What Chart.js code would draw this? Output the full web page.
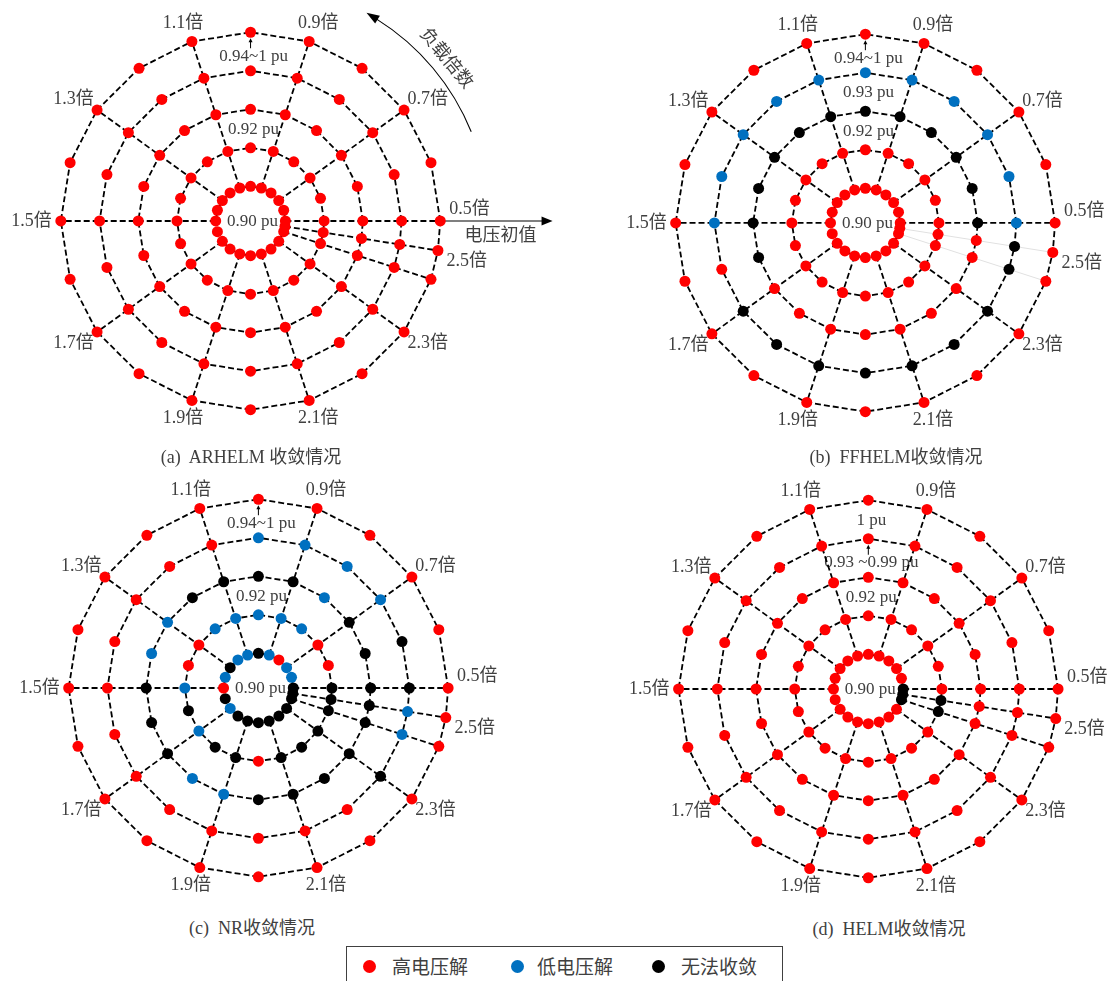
<!DOCTYPE html>
<html>
<head>
<meta charset="utf-8">
<title>收敛情况</title>
<script src="https://cdn.jsdelivr.net/npm/chart.js@4.4.1/dist/chart.umd.min.js"></script>
<style>
  body { margin: 0; background: #fff; }
  #fig {
    position: relative; width: 1113px; height: 981px; overflow: hidden;
    font-family: "Liberation Serif", "Noto Sans CJK SC", serif; color: #404040;
  }
  #fig canvas { position: absolute; }
  .cap { position: absolute; font-size: 18px; white-space: pre; transform: translate(-50%, -50%); }
  #legend {
    position: absolute; left: 346px; top: 946px; width: 437px; height: 44px;
    border: 1px solid #404040; box-sizing: border-box;
  }
  .dot { position: absolute; width: 13px; height: 13px; border-radius: 50%; top: 13px; }
  .lbl { position: absolute; top: 7px; font-size: 19px; line-height: 24px; font-family: "Noto Sans CJK SC", sans-serif; }
</style>
</head>
<body>
<div id="fig">
  <canvas id="pa"></canvas>
  <canvas id="pb"></canvas>
  <canvas id="pc"></canvas>
  <canvas id="pd"></canvas>
  <div id="legend"></div>
</div>
<script>
// load factor on each spoke (0.5 倍 … 2.5 倍)
const loadFactors = ['0.5', '0.6', '0.7', '0.8', '0.9', '1.0', '1.1', '1.2', '1.3', '1.4', '1.5',
                     '1.6', '1.7', '1.8', '1.9', '2.0', '2.1', '2.2', '2.3', '2.4', '2.5'];
// labelled spokes
const spokeTicks = ['0.5', '0.7', '0.9', '1.1', '1.3', '1.5', '1.7', '1.9', '2.1', '2.3', '2.5'];
// initial voltage of each ring, inside out
const ringVoltages = [0.90, 0.91, 0.92, 0.93, 0.94];

const statusNames = ['高电压解', '低电压解', '无法收敛'];
const statusColors = ['#ff0000', '#0070c0', '#000000'];
const statusCodes = ['H', 'L', 'N'];

// one string per ring (0.90 pu outward), one char per load factor 0.5 … 2.5
// H = 高电压解, L = 低电压解, N = 无法收敛
const arhelmStatus = [
  'HHHHHHHHHHHHHHHHHHHHH',
  'HHHHHHHHHHHHHHHHHHHHH',
  'HHHHHHHHHHHHHHHHHHHHH',
  'HHHHHHHHHHHHHHHHHHHHH',
  'HHHHHHHHHHHHHHHHHHHHH'
];
const ffhelmStatus = [
  'HHHHHHHHHHHHHHHHHHHHH',
  'HHHHHHHHHHHHHHHHHHHHH',
  'NNNNNNNNNNNNHHHHHHHHH',
  'LLLLLLLLLLLHNNNNNNNNN',
  'HHHHHHHHHHHHHHHHHHHHH'
];
const nrStatus = [
  'NLLHLNLLNLHNLNNNNNNNN',
  'NHHLLLLLHHLNLNNHNNNNN',
  'NNNLNNNNLLNNNLLNNNNNN',
  'NNLLLLHHHHHHHHHHHHNLL',
  'HHHHHHHHHHHHHHHHHHHHH'
];
const helmStatus = [
  'NHHHHHHHHHHHHHHHHHHNN',
  'HHHHHHHHHHHHHHHHHHHNN',
  'HHHHHHHHHHHHHHHHHHHHH',
  'HHHHHHHHHHHHHHHHHHHHH',
  'HHHHHHHHHHHHHHHHHHHHH'
];

const ringTextA = ['0.90 pu', '', '0.92 pu', '', '0.94~1 pu'];
const ringTextB = ['0.90 pu', '', '0.92 pu', '0.93 pu', '0.94~1 pu'];
const ringTextC = ['0.90 pu', '', '0.92 pu', '', '0.94~1 pu'];
const ringTextD = ['0.90 pu', '', '0.92 pu', '0.93 ~0.99 pu', '1 pu'];

const allSpokes = ['0.5', '0.7', '0.9', '1.1', '1.3', '1.5', '1.7', '1.9', '2.1', '2.3', '2.4', '2.5'];
const mainSpokes = ['0.5', '0.7', '0.9', '1.1', '1.3', '1.5', '1.7', '1.9', '2.1', '2.3'];

const panels = [
  { id: 'pa', status: arhelmStatus, ringText: ringTextA, arrowRing: 4, spokes: allSpokes, faint: [], caption: '(a)  ARHELM 收敛情况', extras: true },
  { id: 'pb', status: ffhelmStatus, ringText: ringTextB, arrowRing: 4, spokes: mainSpokes, faint: ['2.4', '2.5'], caption: '(b)  FFHELM收敛情况' },
  { id: 'pc', status: nrStatus, ringText: ringTextC, arrowRing: 4, spokes: allSpokes, faint: [], caption: '(c)  NR收敛情况' },
  { id: 'pd', status: helmStatus, ringText: ringTextD, arrowRing: 3, spokes: allSpokes, faint: [], caption: '(d)  HELM收敛情况' }
];

// canvas placement, centre of each web, caption centre (page px)
const layout = {
  pa: { left: 0, top: 0, w: 556, h: 440, cx: 250, cy: 221, capX: 251, capY: 455 },
  pb: { left: 556, top: 0, w: 557, h: 440, cx: 310, cy: 223, capX: 896, capY: 455 },
  pc: { left: 0, top: 466, w: 556, h: 445, cx: 258, cy: 222, capX: 252, capY: 926 },
  pd: { left: 556, top: 466, w: 557, h: 445, cx: 313, cy: 223, capX: 889, capY: 927 }
};
const unitPx = 39.5;      // px per radial unit
const textColor = '#404040';
const latinFont = '"Liberation Serif", "Noto Sans CJK SC", serif';
const cjkFont = '"Noto Sans CJK SC", sans-serif';

// rings are evenly spaced, 0.01 pu apart, the innermost one kept off the centre
function ringRadius(v) {
  return 0.9 + Math.round((v - 0.90) * 100);
}

// 0.5倍 points right and the factor grows counter-clockwise, 18° per 0.1;
// 2.5倍 would fall back onto 0.5倍, so it sits halfway between 2.4倍 and 0.5倍
function spokeAngle(fi) {
  return (fi < 20 ? fi * 18 : 351) * Math.PI / 180;
}

function polar(ri, fi) {
  const r = ringRadius(ringVoltages[ri]);
  const a = spokeAngle(fi);
  return { x: r * Math.cos(a), y: r * Math.sin(a) };
}

function buildDatasets(p) {
  const sets = [];
  statusCodes.forEach((code, k) => {
    const pts = [];
    p.status.forEach((row, ri) => {
      [...row].forEach((c, fi) => { if (c === code) pts.push(polar(ri, fi)); });
    });
    sets.push({
      label: statusNames[k], data: pts, showLine: false, order: 0,
      pointRadius: 5.5, pointHoverRadius: 5.5, pointBorderWidth: 0,
      pointBackgroundColor: statusColors[k], backgroundColor: statusColors[k]
    });
  });
  const dashed = { showLine: true, pointRadius: 0, pointHitRadius: 0, borderColor: '#000', borderWidth: 1.8, borderDash: [6, 3], order: 1 };
  ringVoltages.forEach((v, ri) => {
    const pts = loadFactors.map((f, fi) => polar(ri, fi));
    pts.push(pts[0]);
    sets.push(Object.assign({ data: pts }, dashed));
  });
  p.spokes.forEach(f => {
    const fi = loadFactors.indexOf(f);
    sets.push(Object.assign({ data: ringVoltages.map((v, ri) => polar(ri, fi)) }, dashed));
  });
  p.faint.forEach(f => {
    const fi = loadFactors.indexOf(f);
    sets.push({
      data: ringVoltages.map((v, ri) => polar(ri, fi)), showLine: true, pointRadius: 0,
      borderColor: 'rgba(0,0,0,0.12)', borderWidth: 1, order: 2
    });
  });
  return sets;
}

function arrowHead(ctx, x, y, dx, dy, len, half) {
  ctx.beginPath();
  ctx.moveTo(x, y);
  ctx.lineTo(x - dx * len - dy * half, y - dy * len + dx * half);
  ctx.lineTo(x - dx * len + dy * half, y - dy * len - dx * half);
  ctx.closePath();
  ctx.fill();
}

const webText = {
  id: 'webText',
  beforeDatasetsDraw(chart, args, opts) {
    const p = opts.panel;
    if (!p) return;
    const ctx = chart.ctx;
    const X = v => chart.scales.x.getPixelForValue(v);
    const Y = v => chart.scales.y.getPixelForValue(v);
    const cx = X(0), cy = Y(0);
    const outer = ringVoltages.length - 1;
    ctx.save();
    ctx.fillStyle = textColor;
    ctx.strokeStyle = '#000';
    ctx.font = '18px ' + latinFont;
    ctx.textAlign = 'center';
    ctx.textBaseline = 'middle';

    // load factor labels outside the outer ring
    spokeTicks.forEach(f => {
      const fi = loadFactors.indexOf(f);
      const pt = polar(outer, fi);
      const a = spokeAngle(fi);
      const text = f + '倍';
      const hw = ctx.measureText(text).width / 2;
      const x = X(pt.x) + Math.cos(a) * (9 + hw);
      let y = Y(pt.y) - Math.sin(a) * 19;
      if (fi === 0) y -= 12;
      if (fi === loadFactors.length - 1) y += 8;
      ctx.fillText(text, x, y);
    });

    // ring voltage labels, just under the top of their ring
    ctx.font = '17px ' + latinFont;
    p.ringText.forEach((t, ri) => {
      if (!t) return;
      if (ri === 0) { ctx.fillText(t, cx + 2, cy + 1); return; }
      const top = Y(ringRadius(ringVoltages[ri]));
      const withArrow = ri === p.arrowRing;
      const ty = top + (withArrow ? 24 : 20);
      ctx.fillText(t, cx + 3, ty);
      if (withArrow) {
        ctx.lineWidth = 1;
        ctx.setLineDash([]);
        ctx.beginPath();
        ctx.moveTo(cx, ty - 8);
        ctx.lineTo(cx, top + 9);
        ctx.stroke();
        ctx.fillStyle = '#000';
        arrowHead(ctx, cx, top + 6, 0, -1, 4, 2);
        ctx.fillStyle = textColor;
      }
    });

    if (p.extras) {
      // 电压初值 axis arrow
      const x0 = X(ringRadius(ringVoltages[outer]));
      const x1 = cx + 302;
      ctx.lineWidth = 1.2;
      ctx.setLineDash([]);
      ctx.beginPath();
      ctx.moveTo(x0, cy);
      ctx.lineTo(x1 - 8, cy);
      ctx.stroke();
      ctx.fillStyle = '#000';
      arrowHead(ctx, x1, cy, 1, 0, 11, 4.5);
      ctx.fillStyle = textColor;
      ctx.font = '18px ' + cjkFont;
      ctx.fillText('电压初值', cx + 250, cy + 13);

      // 负载倍数 curved arrow
      const R = 238, a0 = 22 * Math.PI / 180, a1 = 58 * Math.PI / 180;
      ctx.lineWidth = 1.1;
      ctx.beginPath();
      ctx.arc(cx, cy, R, -a0, -a1, true);
      ctx.stroke();
      const ex = cx + R * Math.cos(a1), ey = cy - R * Math.sin(a1);
      const tx = -Math.sin(a1), ty = -Math.cos(a1);
      ctx.fillStyle = '#000';
      arrowHead(ctx, ex + tx * 12, ey + ty * 12, tx, ty, 13, 4.5);
      ctx.fillStyle = textColor;
      const am = 39.7 * Math.PI / 180;
      ctx.translate(cx + 256 * Math.cos(am), cy - 256 * Math.sin(am));
      ctx.rotate(Math.PI / 2 - am);
      ctx.fillText('负载倍数', 0, 0);
    }
    ctx.restore();
  }
};

panels.forEach(p => {
  const L = layout[p.id];
  const cv = document.getElementById(p.id);
  cv.width = L.w;
  cv.height = L.h;
  cv.style.left = L.left + 'px';
  cv.style.top = L.top + 'px';

  new Chart(cv.getContext('2d'), {
    type: 'scatter',
    data: { datasets: buildDatasets(p) },
    options: {
      responsive: false,
      maintainAspectRatio: false,
      animation: false,
      events: [],
      layout: { padding: 0 },
      plugins: {
        legend: { display: false },
        tooltip: { enabled: false },
        webText: { panel: p }
      },
      scales: {
        x: { type: 'linear', display: false, min: -L.cx / unitPx, max: (L.w - L.cx) / unitPx },
        y: { type: 'linear', display: false, min: -(L.h - L.cy) / unitPx, max: L.cy / unitPx }
      }
    },
    plugins: [webText]
  });

  const cap = document.createElement('div');
  cap.className = 'cap';
  cap.textContent = p.caption;
  cap.style.left = L.capX + 'px';
  cap.style.top = L.capY + 'px';
  document.getElementById('fig').appendChild(cap);
});

// shared legend
const legendPos = [{ dot: 16, text: 45 }, { dot: 164, text: 190 }, { dot: 305, text: 334 }];
const legend = document.getElementById('legend');
statusNames.forEach((name, k) => {
  const d = document.createElement('div');
  d.className = 'dot';
  d.style.left = legendPos[k].dot + 'px';
  d.style.background = statusColors[k];
  legend.appendChild(d);
  const t = document.createElement('div');
  t.className = 'lbl';
  t.style.left = legendPos[k].text + 'px';
  t.textContent = name;
  legend.appendChild(t);
});
</script>
</body>
</html>
